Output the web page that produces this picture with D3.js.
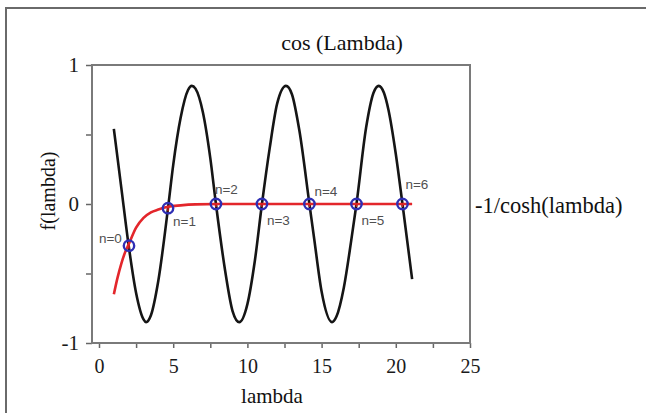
<!DOCTYPE html>
<html><head><meta charset="utf-8">
<script src="https://cdn.jsdelivr.net/npm/d3@7"></script>
<style>body{margin:0;background:#fff}svg{display:block}</style>
</head><body>
<svg id="c" width="646" height="413"></svg>
<script>
// cos(Lambda) curve
const cosLambda = [1.0,1.5,2.0,2.5,3.0,3.17,3.5,4.0,4.65,5.0,5.5,6.0,6.25,6.5,7.0,7.5,7.88,8.5,9.0,9.45,10.0,10.5,10.98,11.5,12.0,12.6,13.0,13.5,14.18,14.5,15.0,15.7,16.0,16.5,17.0,17.35,18.0,18.5,18.85,19.2,19.5,20.0,20.45,21.1];
const cosValue  = [0.54,0.12,-0.30,-0.64,-0.83,-0.85,-0.80,-0.55,-0.03,0.28,0.62,0.82,0.85,0.83,0.66,0.33,0.0,-0.48,-0.77,-0.85,-0.72,-0.41,0.0,0.40,0.72,0.85,0.79,0.53,0.0,-0.25,-0.63,-0.85,-0.81,-0.60,-0.26,0.0,0.55,0.80,0.85,0.80,0.68,0.36,0.0,-0.54];
// -1/cosh(lambda) curve
const coshLambda = [1.0,1.25,1.5,1.75,2.0,2.5,3.0,3.5,4.0,4.65,5.5,6.5,8,10,14,18,21.1];
const coshValue  = [-0.65,-0.53,-0.43,-0.35,-0.29,-0.17,-0.10,-0.06,-0.04,-0.02,-0.01,-0.003,0,0,0,0,0];
// intersections
const rootLabels = ["n=0","n=1","n=2","n=3","n=4","n=5","n=6"];
const rootLambda = [2.02,4.65,7.88,10.98,14.18,17.35,20.45];
const rootValue  = [-0.30,-0.03,0.0,0.0,0.0,0.0,0.0];
const xTicks = [0,2.5,5,7.5,10,12.5,15,17.5,20,22.5,25];
const yTicks = [-1,-0.5,0,0.5,1];
const title = "cos (Lambda)";
const sideLabel = "-1/cosh(lambda)";
const xTitle = "lambda";
const yTitle = "f(lambda)";

const svg = d3.select("#c");
const x = d3.scaleLinear().domain([0,25]).range([99,470]);
const y = d3.scaleLinear().domain([-1,1]).range([343,65]);
const serif = "'Liberation Serif','Times New Roman',serif";

// outer border
svg.append("path").attr("d","M6,413 V8 H646").attr("fill","none").attr("stroke","#6a6a6a").attr("stroke-width",2);

// axes
const gx = svg.append("g").attr("transform",`translate(0,${y(-1)})`)
  .call(d3.axisBottom(x).tickValues(xTicks).tickSize(5).tickFormat(d=>d%5===0?d:""));
gx.select(".domain").remove();
gx.selectAll("line").attr("stroke","#666").attr("stroke-width",1.5);
gx.selectAll("text").attr("font-family",serif).attr("font-size",20).attr("fill","#1a1a1a").attr("y",16);

const gy = svg.append("g").attr("transform",`translate(92,0)`)
  .call(d3.axisLeft(y).tickValues(yTicks).tickSize(6).tickFormat(d=>Number.isInteger(d)?d:""));
gy.select(".domain").remove();
gy.selectAll("line").attr("stroke","#666").attr("stroke-width",1.5);
gy.selectAll("text").attr("font-family",serif).attr("font-size",21).attr("fill","#1a1a1a").attr("x",-13);

// frame
svg.append("rect").attr("x",92).attr("y",y(1)).attr("width",x(25)-92).attr("height",y(-1)-y(1))
  .attr("fill","none").attr("stroke","#7a7a7a").attr("stroke-width",2);

// curves
const cosData = cosLambda.map((l,i)=>[l,cosValue[i]]);
const coshData = coshLambda.map((l,i)=>[l,coshValue[i]]);
const line = d3.line().x(d=>x(d[0])).y(d=>y(d[1])).curve(d3.curveMonotoneX);
svg.append("path").attr("d",line(cosData)).attr("fill","none").attr("stroke","#151515").attr("stroke-width",2.6);
svg.append("path").attr("d",line(coshData)).attr("fill","none").attr("stroke","#e3262b").attr("stroke-width",2.6);

// markers
const roots = rootLabels.map((t,i)=>({t, l:rootLambda[i], v:rootValue[i], i}));
const mg = svg.append("g");
mg.selectAll("circle").data(roots).join("circle")
  .attr("cx",d=>x(d.l)).attr("cy",d=>y(d.v)).attr("r",5.2)
  .attr("fill","none").attr("stroke","#2e2eb4").attr("stroke-width",2.4);
mg.selectAll("line").data(roots).join("line")
  .attr("x1",d=>x(d.l)).attr("x2",d=>x(d.l)).attr("y1",d=>y(d.v)-1).attr("y2",d=>y(d.v)+3)
  .attr("stroke","#d02020").attr("stroke-width",1.5);

const offs = [[-30,-3],[5,18],[-1,-10],[5,21],[5,-8],[5,21],[3,-15]];
mg.selectAll("text").data(roots).join("text")
  .attr("x",d=>x(d.l)+offs[d.i][0]).attr("y",d=>y(d.v)+offs[d.i][1])
  .attr("font-family","'Liberation Sans',Arial,sans-serif").attr("font-size",13.5)
  .attr("fill","#505050").text(d=>d.t);

// texts
svg.append("text").attr("x",342).attr("y",50).attr("text-anchor","middle")
  .attr("font-family",serif).attr("font-size",22).attr("fill","#111").text(title);
svg.append("text").attr("x",475).attr("y",213)
  .attr("font-family",serif).attr("font-size",22.5).attr("fill","#111").text(sideLabel);
svg.append("text").attr("x",272).attr("y",403).attr("text-anchor","middle")
  .attr("font-family",serif).attr("font-size",21).attr("fill","#111").text(xTitle);
svg.append("text").attr("transform","translate(55,191) rotate(-90)").attr("text-anchor","middle")
  .attr("font-family",serif).attr("font-size",20).attr("fill","#111").text(yTitle);
</script>
</body></html>
